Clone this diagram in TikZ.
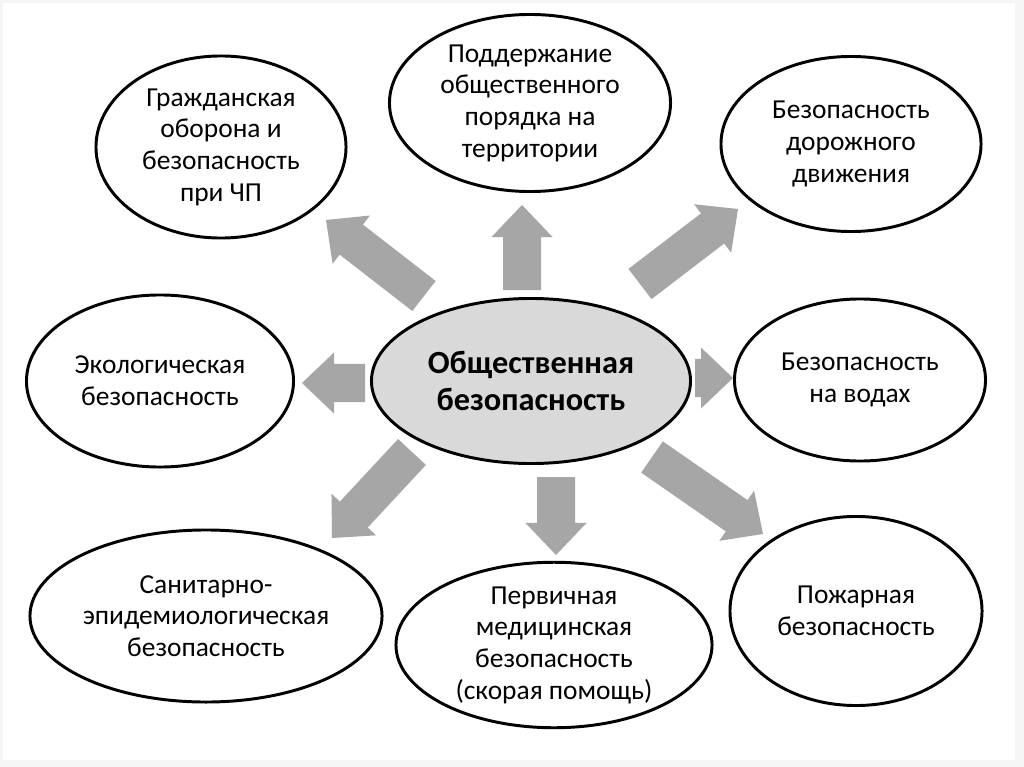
\documentclass[tikz,border=0pt]{standalone}
\usepackage{fontspec}
\setmainfont{Carlito}
\usepackage{tikz}
\usetikzlibrary{calc, shapes.geometric}
\usepackage{xcolor}

\begin{document}
\begin{tikzpicture}[
    x=0.025cm, y=-0.025cm,
    oval/.style={ellipse, draw, line width=2.1pt, fill=white, inner sep=0pt, align=center, font=\fontsize{19.5}{22.5}\selectfont},
    core/.style={oval, fill=black!15, font=\fontsize{23}{26.5}\selectfont\bfseries},
    bigarrow/.style={fill=black!35, to path={
        let \p1=($(\tikztotarget)!0.8cm!(\tikztostart)$) in
        -- ($(\tikztostart)!0.475cm!90:(\tikztotarget)$)
        -- ($(\p1)!0.475cm!90:(\tikztotarget)$)
        -- ($(\p1)!0.7625cm!90:(\tikztotarget)$)
        -- (\tikztotarget)
        -- ($(\p1)!0.7625cm!-90:(\tikztotarget)$)
        -- ($(\p1)!0.475cm!-90:(\tikztotarget)$)
        -- ($(\tikztostart)!0.475cm!-90:(\tikztotarget)$)
        -- cycle}}
]
    % фон слайда
    \fill[black!4] (0,0) rectangle (1024,767);
    \fill[white] (3,3) rectangle (1015,760);
    \useasboundingbox (0,0) rectangle (1024,767);

    % центр
    \node[core, minimum width=7.975cm, minimum height=4.125cm] (hub) at (531,381)
    {Общественная\\безопасность};

    % верхний ряд
    \node[oval, minimum width=6.25cm, minimum height=4.55cm] (civil) at (221,147)
    {Гражданская\\оборона и\\безопасность\\при ЧП};
    \node[oval, minimum width=7.025cm, minimum height=4.425cm] (order) at (530,103)
    {Поддержание\\общественного\\порядка на\\территории};
    \node[oval, minimum width=6.5cm, minimum height=4.375cm] (traffic) at (851,144)
    {Безопасность\\дорожного\\движения};

    % средний ряд
    \node[oval, minimum width=6.675cm, minimum height=4.3cm] (eco) at (160,381)
    {Экологическая\\безопасность};
    \node[oval, minimum width=6.275cm, minimum height=4.05cm] (water) at (860,380)
    {Безопасность\\на водах};

    % нижний ряд
    \node[oval, minimum width=8.8cm, minimum height=4.3cm] (sanit) at (206,616)
    {Санитарно-\\эпидемиологическая\\безопасность};
    \node[oval, minimum width=7.9cm, minimum height=4.025cm] (medic) at (554,645)
    {Первичная\\медицинская\\безопасность\\(скорая помощь)};
    \node[oval, minimum width=6.3cm, minimum height=4.725cm] (fire) at (856,611)
    {Пожарная\\безопасность};

    % концы стрелок
    \coordinate (tUp) at (522,290);   \coordinate (hUp) at (522,205);
    \coordinate (tDn) at (556,477);   \coordinate (hDn) at (556,555);
    \coordinate (tLf) at (365,383);   \coordinate (hLf) at (302,383);
    \coordinate (tRt) at (695,378);   \coordinate (hRt) at (733,378);
    \coordinate (tUL) at (424,296);   \coordinate (hUL) at (326,220);
    \coordinate (tUR) at (640,284);   \coordinate (hUR) at (738,209);
    \coordinate (tDL) at (412,452);   \coordinate (hDL) at (332,538);
    \coordinate (tDR) at (652,457);   \coordinate (hDR) at (763,534);

    % стрелки
    \fill[bigarrow] (tUp) to (hUp);
    \fill[bigarrow] (tDn) to (hDn);
    \fill[bigarrow] (tLf) to (hLf);
    \fill[bigarrow] (tRt) to (hRt);
    \fill[bigarrow] (tUL) to (hUL);
    \fill[bigarrow] (tUR) to (hUR);
    \fill[bigarrow] (tDL) to (hDL);
    \fill[bigarrow] (tDR) to (hDR);
\end{tikzpicture}
\end{document}
